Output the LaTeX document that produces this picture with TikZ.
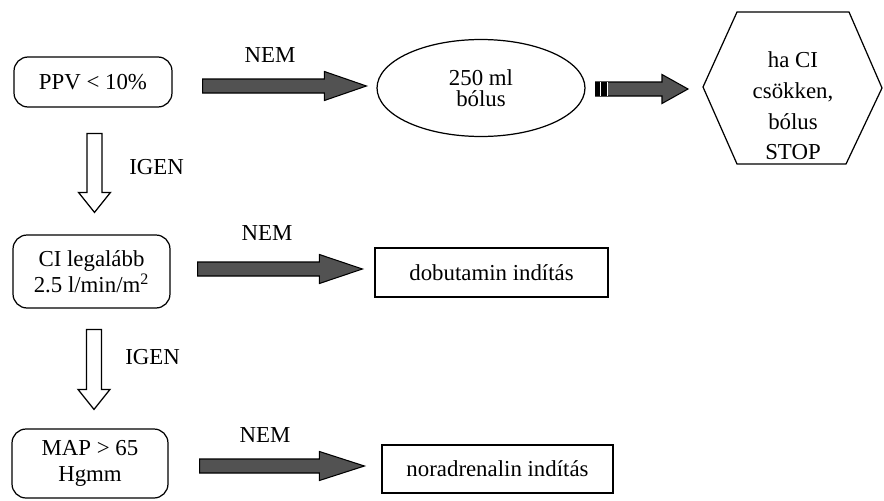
\documentclass[tikz,border=0pt]{standalone}
\usepackage{fontspec}
\setmainfont{Liberation Serif}
\usetikzlibrary{calc,shapes.geometric}
\tikzset{
  box-r/.style={draw,rectangle,rounded corners=8pt,line width=0.7pt,align=center,inner sep=0pt},
  box-s/.style={draw,rectangle,line width=0.7pt,inner sep=0pt},
  box-e/.style={draw,ellipse,line width=0.7pt,align=center,inner sep=0pt},
  lbl/.style={inner sep=0pt},
  fat/.style={draw=black,fill=black!68,line width=0.6pt,
    to path={let \p1=(\tikztostart), \p2=(\tikztotarget) in
      ([shift={(0,-7)}]\x1,\y1) -- ([shift={(-#1,-7)}]\x2,\y1) -- ([shift={(-#1,-14.5)}]\x2,\y1)
      -- (\x2,\y1) -- ([shift={(-#1,14.5)}]\x2,\y1) -- ([shift={(-#1,7)}]\x2,\y1)
      -- ([shift={(0,7)}]\x1,\y1) -- cycle}},
  fat/.default=43,
  hollow/.style={draw=black,fill=white,line width=0.7pt,
    to path={let \p1=(\tikztostart), \p2=(\tikztotarget) in
      ([shift={(-7.5,0)}]\x1,\y1) -- ([shift={(-7.5,-20)}]\x1,\y2) -- ([shift={(-16,-20)}]\x1,\y2)
      -- (\x1,\y2) -- ([shift={(16,-20)}]\x1,\y2) -- ([shift={(7.5,-20)}]\x1,\y2)
      -- ([shift={(7.5,0)}]\x1,\y1) -- cycle}},
}

\begin{document}
\begin{tikzpicture}[x=0.02cm,y=-0.02cm,font=\fontsize{13}{15}\selectfont]

  \useasboundingbox (0,0) rectangle (884,500);

  % row 1: PPV
  \node[box-r,minimum width=3.16cm,minimum height=1.0cm] (ppv) at (93,82) {PPV < 10\%};
  \node[box-e,minimum width=4.16cm,minimum height=1.94cm,font=\fontsize{13}{12}\selectfont] (bolus) at (481,88) {250 ml\\bólus};
  \coordinate (hw)  at (703,87);
  \coordinate (hnw) at (737,12);
  \coordinate (hne) at (849,12);
  \coordinate (he)  at (882,88);
  \coordinate (hse) at (846,164);
  \coordinate (hsw) at (737,164);
  \draw[line width=0.7pt] (hw) -- (hnw) -- (hne) -- (he) -- (hse) -- (hsw) -- cycle;
  \node[lbl,align=center,font=\fontsize{13}{17.5}\selectfont] (stop) at (793,106) {ha CI\\csökken,\\bólus\\STOP};
  \node[lbl] (nem1) at (270,55) {NEM};
  \draw[fat=42] ([shift={(30,4)}]ppv.east) to ([shift={(-10,0)}]bolus.west);
  \draw[fat=26] ([shift={(10,1)}]bolus.east) to ([shift={(-15,0)}]hw);
  % dark bars at the start of the short arrow
  \fill[black] ([shift={(10,-6)}]bolus.east) rectangle ([shift={(22,8)}]bolus.east);
  \draw[white,line width=0.8pt] ([shift={(15,-6)}]bolus.east) -- ([shift={(15,8)}]bolus.east);
  \draw[white,line width=0.8pt] ([shift={(22,-6)}]bolus.east) -- ([shift={(22,8)}]bolus.east);

  % row 2: CI
  \node[box-r,minimum width=3.14cm,minimum height=1.46cm] (ci) at (91.5,271.5) {CI legalább\\2.5 l/min/m\textsuperscript{2}};
  \node[box-s,minimum width=4.66cm,minimum height=0.98cm] (dobu) at (491.5,272.5) {dobutamin indítás};
  \node[lbl] (nem2) at (267,233) {NEM};
  \node[lbl,anchor=west] (igen1) at (129,167) {IGEN};
  \draw[hollow] ([shift={(1.5,26)}]ppv.south) to ([shift={(0,-22)}]ci.north);
  \draw[fat=43] ([shift={(27,-2.5)}]ci.east) to ([shift={(-12,0)}]dobu.west);

  % row 3: MAP
  \node[box-r,minimum width=3.12cm,minimum height=1.38cm] (map) at (90,463.5) {MAP > 65\\Hgmm};
  \node[box-s,minimum width=4.62cm,minimum height=0.96cm] (nora) at (497.5,469) {noradrenalin indítás};
  \node[lbl] (nem3) at (265,435) {NEM};
  \node[lbl,anchor=west] (igen2) at (125,357) {IGEN};
  \draw[hollow] ([shift={(2.5,21)}]ci.south) to ([shift={(0,-19)}]map.north);
  \draw[fat=45] ([shift={(31,2.5)}]map.east) to ([shift={(-17,0)}]nora.west);

\end{tikzpicture}
\end{document}
